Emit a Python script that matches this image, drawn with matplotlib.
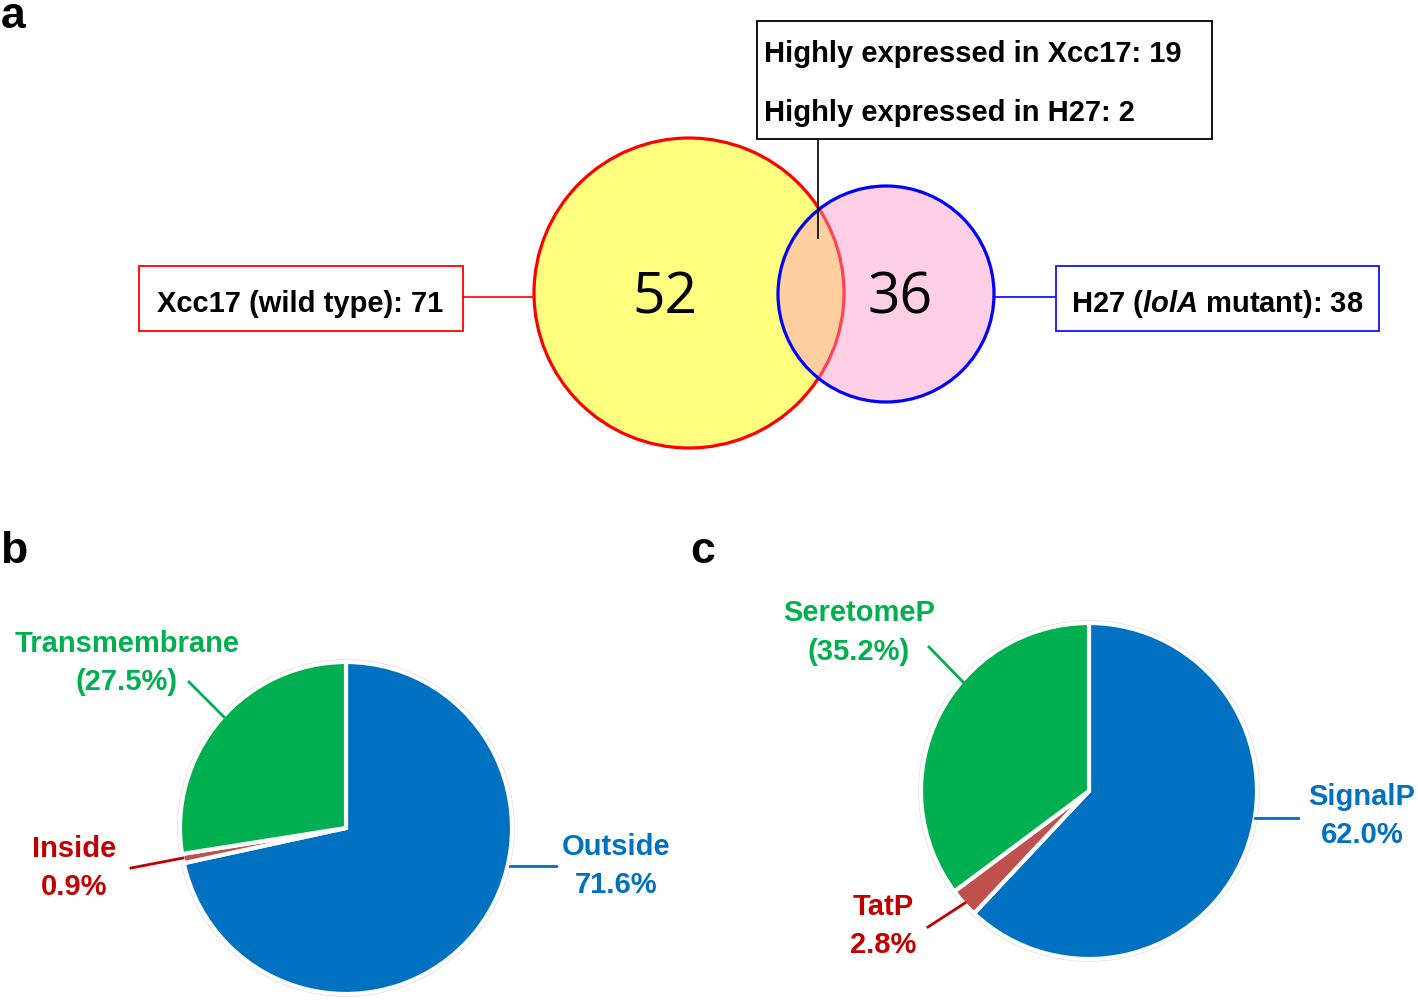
import numpy as np
import matplotlib
matplotlib.use('Agg')
import matplotlib.pyplot as plt
from matplotlib.patches import Circle, Rectangle

plt.rcParams['font.family'] = ['Liberation Sans', 'DejaVu Sans']
plt.rcParams['mathtext.fontset'] = 'custom'
plt.rcParams['mathtext.it'] = 'Liberation Sans:italic:bold'
plt.rcParams['mathtext.rm'] = 'Liberation Sans:bold'

# Venn data
venn_only = [52, 36]
wt_label = 'Xcc17 (wild type): 71'
mut_label = r'H27 ($\mathit{lolA}$ mutant): 38'
shared_lines = ['Highly expressed in Xcc17: 19', 'Highly expressed in H27: 2']

# pie b: topology
b_names = ['Outside', 'Inside', 'Transmembrane']
b_values = [71.6, 0.9, 27.5]
b_colors = ['#0070C0', '#C0504D', '#00B050']
b_text_colors = ['#0070C0', '#C00000', '#00B050']
b_paren = [False, False, True]

# pie c: secretion prediction
c_names = ['SignalP', 'TatP', 'SeretomeP']
c_values = [62.0, 2.8, 35.2]
c_colors = ['#0070C0', '#C0504D', '#00B050']
c_text_colors = ['#0070C0', '#C00000', '#00B050']
c_paren = [False, False, True]

W, H = 1418, 1001
def Y(y):
    # pixel rows from top -> data y
    return H - y

fig = plt.figure(figsize=(W / 100, H / 100), dpi=100)
ax = fig.add_axes([0, 0, 1, 1])

FS = 21

# ---- panel a: venn ----
big = Circle((689, Y(293)), 155, facecolor='#FFFF80', edgecolor='#FF0000', lw=2.3, zorder=2)
small_fill = Circle((886, Y(294)), 108, facecolor=(1.0, 0.59, 0.78), alpha=0.45, edgecolor='none', zorder=3)
small_edge = Circle((886, Y(294)), 108, facecolor='none', edgecolor='#0000FF', lw=2.3, zorder=4)
for p in (big, small_fill, small_edge):
    ax.add_patch(p)

for x, n in zip([665, 900], venn_only):
    ax.text(x, Y(313), str(n), family='Open Sans', fontstyle='normal', fontweight='normal',
            fontsize=41, ha='center', va='baseline', zorder=5)

# side boxes + connectors
ax.add_patch(Rectangle((139, Y(331)), 324, 65, facecolor='white', edgecolor='#FF0000', lw=1.3, zorder=2))
ax.plot([463, 534], [Y(297), Y(297)], color='#FF0000', lw=1.2, zorder=1)
ax.text(300, Y(312), wt_label, fontsize=FS, fontweight='bold', ha='center', va='baseline', zorder=3)

ax.add_patch(Rectangle((1056, Y(331)), 323, 65, facecolor='white', edgecolor='#1010FF', lw=1.3, zorder=2))
ax.plot([993, 1056], [Y(297), Y(297)], color='#0000FF', lw=1.2, zorder=1)
ax.text(1217, Y(312), mut_label, fontsize=FS, fontweight='bold', ha='center', va='baseline', zorder=3)

ax.add_patch(Rectangle((757, Y(139)), 455, 118, facecolor='white', edgecolor='black', lw=1.3, zorder=2))
ax.plot([818, 818], [Y(139), Y(238)], color='black', lw=1.2, zorder=6)
for yb, line in zip([62, 121], shared_lines):
    ax.text(764, Y(yb), line, fontsize=FS, fontweight='bold', ha='left', va='baseline', zorder=3)

# ---- pies ----
def draw_pie(values, colors, center, radius):
    ax.add_patch(Circle(center, radius + 2, facecolor='none', edgecolor='#DDDDDD', lw=1.0, zorder=1))
    ax.pie(values, colors=colors, startangle=90, counterclock=False,
           center=center, radius=radius, frame=True,
           wedgeprops=dict(edgecolor='white', linewidth=3))

draw_pie(b_values, b_colors, (346, Y(828)), 166)
draw_pie(c_values, c_colors, (1089, Y(791)), 168)

def pie_labels(names, values, tcolors, paren, xs, base1, base2):
    for nm, v, col, par, x, y1, y2 in zip(names, values, tcolors, paren, xs, base1, base2):
        pct = f'({v:.1f}%)' if par else f'{v:.1f}%'
        ax.text(x, Y(y1), nm, color=col, fontsize=FS, fontweight='bold', ha='center', va='baseline')
        ax.text(x, Y(y2), pct, color=col, fontsize=FS, fontweight='bold', ha='center', va='baseline')

pie_labels(b_names, b_values, b_text_colors, b_paren,
           [616, 74, 127], [855, 857, 652], [893, 895, 690])
pie_labels(c_names, c_values, c_text_colors, c_paren,
           [1362, 883, 859], [805, 915, 621], [843, 953, 660])

# leader lines
b_leaders = [((510, 866), (556, 866)), ((131, 868), (183, 858)), ((189, 682), (224, 717))]
c_leaders = [((1255, 818), (1298, 818)), ((928, 927), (965, 903)), ((929, 647), (964, 683))]
for leaders, cols in ((b_leaders, b_text_colors), (c_leaders, c_text_colors)):
    for (p0, p1), col in zip(leaders, cols):
        ax.plot([p0[0], p1[0]], [Y(p0[1]), Y(p1[1])], color=col, lw=2, zorder=3)

# panel letters
for x, yb, s in [(1, 28, 'a'), (0, 563, 'b'), (690, 563, 'c')]:
    ax.text(x, Y(yb), s, fontsize=32, fontweight='bold', ha='left', va='baseline')

ax.set_xlim(0, W)
ax.set_ylim(0, H)
ax.set_aspect('auto')
ax.axis('off')

fig.savefig('out.png', dpi=100, facecolor='white')
